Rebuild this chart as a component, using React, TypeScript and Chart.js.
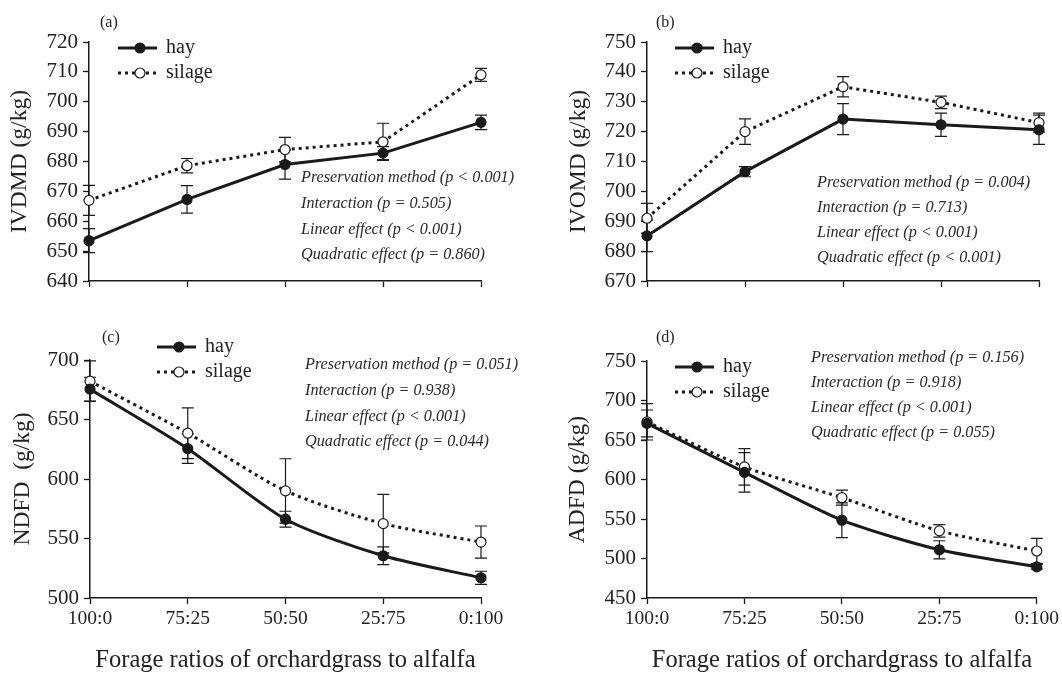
import React, { useEffect, useRef } from "react";
import { Chart, registerables } from "chart.js";

Chart.register(...registerables);

// ---------- data ----------
const categories = ["100:0", "75:25", "50:50", "25:75", "0:100"];
const seriesNames = ["hay", "silage"];

const ivdmdHay = [653.5, 667.3, 679.0, 682.8, 693.1];
const ivdmdHayErr = [4.0, 4.6, 4.9, 2.2, 2.4];
const ivdmdSilage = [667.0, 678.6, 684.0, 686.6, 709.0];
const ivdmdSilageErr = [5.0, 2.4, 4.1, 6.2, 2.2];

const ivomdHay = [685.1, 706.6, 724.2, 722.3, 720.6];
const ivomdHayErr = [5.3, 1.7, 5.2, 3.9, 4.9];
const ivomdSilage = [691.0, 720.0, 735.0, 729.8, 723.0];
const ivomdSilageErr = [5.0, 4.3, 3.4, 2.1, 3.2];

const ndfdHay = [675.5, 625.5, 566.2, 535.5, 517.0];
const ndfdHayErr = [10.0, 12.4, 6.7, 7.5, 5.5];
const ndfdSilage = [682.2, 638.5, 590.0, 562.5, 547.0];
const ndfdSilageErr = [17.0, 21.3, 27.0, 24.6, 13.5];

const adfdHay = [671.0, 609.0, 548.5, 511.0, 489.5];
const adfdHayErr = [17.0, 25.0, 22.0, 11.5, 3.0];
const adfdSilage = [673.0, 616.0, 577.0, 535.0, 509.5];
const adfdSilageErr = [23.0, 23.0, 9.5, 8.0, 16.0];

const statLabels = ["Preservation method", "Interaction", "Linear effect", "Quadratic effect"];
const ivdmdStats = ["(p < 0.001)", "(p = 0.505)", "(p < 0.001)", "(p = 0.860)"];
const ivomdStats = ["(p = 0.004)", "(p = 0.713)", "(p < 0.001)", "(p < 0.001)"];
const ndfdStats = ["(p = 0.051)", "(p = 0.938)", "(p < 0.001)", "(p = 0.044)"];
const adfdStats = ["(p = 0.156)", "(p = 0.918)", "(p < 0.001)", "(p = 0.055)"];

const xAxisTitle = "Forage ratios of orchardgrass to alfalfa";

// ---------- style ----------
const FONT = "'Liberation Serif', 'DejaVu Serif', serif";
const INK = "#1a1a1a";
const TEXT = "#222";

type PanelCfg = {
  key: string;
  letter: string;
  yTitle: string;
  hay: number[];
  hayErr: number[];
  silage: number[];
  silageErr: number[];
  stats: string[];
  yMin: number;
  yMax: number;
  step: number;
  tension: number;
  left: number;
  top: number;
  w: number;
  h: number;
  padLeft: number;
  padRight: number;
  padTop: number;
  yWidth: number;
  xHeight: number;
  showX: boolean;
  letterPos: [number, number];
  legendPos: [number, number];
  statsPos: [number, number];
  statsGap: number;
};

const panels: PanelCfg[] = [
  {
    key: "a", letter: "(a)", yTitle: "IVDMD (g/kg)",
    hay: ivdmdHay, hayErr: ivdmdHayErr, silage: ivdmdSilage, silageErr: ivdmdSilageErr,
    stats: ivdmdStats, yMin: 640, yMax: 720, step: 10, tension: 0,
    left: 0, top: 0, w: 531, h: 300, padLeft: 0, padRight: 50, padTop: 42, yWidth: 89, xHeight: 19, showX: false,
    letterPos: [100, 23], legendPos: [118, 48], statsPos: [301, 178], statsGap: 25.7,
  },
  {
    key: "b", letter: "(b)", yTitle: "IVOMD (g/kg)",
    hay: ivomdHay, hayErr: ivomdHayErr, silage: ivomdSilage, silageErr: ivomdSilageErr,
    stats: ivomdStats, yMin: 670, yMax: 750, step: 10, tension: 0,
    left: 531, top: 0, w: 531, h: 300, padLeft: 28, padRight: 23, padTop: 42, yWidth: 88, xHeight: 19, showX: false,
    letterPos: [125, 23], legendPos: [144, 48], statsPos: [286, 183], statsGap: 25,
  },
  {
    key: "c", letter: "(c)", yTitle: "NDFD  (g/kg)",
    hay: ndfdHay, hayErr: ndfdHayErr, silage: ndfdSilage, silageErr: ndfdSilageErr,
    stats: ndfdStats, yMin: 500, yMax: 700, step: 50, tension: 0.25,
    left: 0, top: 300, w: 531, h: 373, padLeft: 3, padRight: 50, padTop: 60, yWidth: 87, xHeight: 75, showX: true,
    letterPos: [102, 38], legendPos: [157, 47], statsPos: [305, 65], statsGap: 25.7,
  },
  {
    key: "d", letter: "(d)", yTitle: "ADFD (g/kg)",
    hay: adfdHay, hayErr: adfdHayErr, silage: adfdSilage, silageErr: adfdSilageErr,
    stats: adfdStats, yMin: 450, yMax: 750, step: 50, tension: 0.25,
    left: 531, top: 300, w: 531, h: 373, padLeft: 27, padRight: 23, padTop: 61, yWidth: 89, xHeight: 75, showX: true,
    letterPos: [125, 38], legendPos: [144, 67], statsPos: [280, 58], statsGap: 25,
  },
];

const overlayPlugin = {
  id: "overlay",
  beforeDatasetsDraw(chart: any, _args: any, opts: any) {
    const ctx = chart.ctx;
    const xs = chart.scales.x;
    const ys = chart.scales.y;
    ctx.save();
    ctx.strokeStyle = INK;
    ctx.lineWidth = 1.2;
    ctx.setLineDash([]);
    chart.data.datasets.forEach((ds: any, i: number) => {
      const errs: number[] = opts.errors[i];
      ds.data.forEach((v: number, j: number) => {
        const e = errs[j];
        const x = xs.getPixelForValue(j);
        const y1 = ys.getPixelForValue(v + e);
        const y2 = ys.getPixelForValue(v - e);
        ctx.beginPath();
        ctx.moveTo(x, y1);
        ctx.lineTo(x, y2);
        ctx.moveTo(x - 6, y1);
        ctx.lineTo(x + 6, y1);
        ctx.moveTo(x - 6, y2);
        ctx.lineTo(x + 6, y2);
        ctx.stroke();
      });
    });
    ctx.restore();
  },
  afterDraw(chart: any, _args: any, opts: any) {
    const ctx = chart.ctx;
    ctx.save();
    ctx.fillStyle = TEXT;
    ctx.font = `16px ${FONT}`;
    ctx.textBaseline = "middle";
    ctx.textAlign = "left";
    ctx.fillText(opts.letter, opts.letterPos[0], opts.letterPos[1]);

    const [lx, ly] = opts.legendPos;
    const rowGap = 25;
    chart.data.datasets.forEach((ds: any, i: number) => {
      const y = ly + i * rowGap;
      ctx.beginPath();
      ctx.strokeStyle = INK;
      ctx.lineWidth = 3;
      ctx.setLineDash(ds.borderDash || []);
      ctx.moveTo(lx, y);
      ctx.lineTo(lx + 39, y);
      ctx.stroke();
      ctx.setLineDash([]);
      ctx.beginPath();
      ctx.arc(lx + 22, y, 5, 0, Math.PI * 2);
      ctx.fillStyle = ds.pointBackgroundColor;
      ctx.fill();
      ctx.lineWidth = 1.2;
      ctx.strokeStyle = INK;
      ctx.stroke();
      ctx.fillStyle = TEXT;
      ctx.font = `20px ${FONT}`;
      ctx.textAlign = "left";
      ctx.textBaseline = "middle";
      ctx.fillText(ds.label, lx + 48, y);
    });

    ctx.fillStyle = "#2a2a2a";
    ctx.font = `italic 16.2px ${FONT}`;
    ctx.textAlign = "left";
    ctx.textBaseline = "middle";
    opts.stats.forEach((s: string, i: number) => {
      ctx.fillText(s, opts.statsPos[0], opts.statsPos[1] + i * opts.statsGap);
    });
    ctx.restore();
  },
};

function Panel({ cfg }: { cfg: PanelCfg }) {
  const ref = useRef<HTMLCanvasElement | null>(null);
  useEffect(() => {
    if (!ref.current) return;
    const chart = new Chart(ref.current, {
      type: "line",
      data: {
        labels: categories,
        datasets: [
          {
            label: seriesNames[0],
            data: cfg.hay,
            borderColor: INK,
            borderWidth: 3,
            pointRadius: 5,
            pointBackgroundColor: INK,
            pointBorderColor: INK,
            pointBorderWidth: 1.2,
            tension: cfg.tension,
            clip: false as any,
          },
          {
            label: seriesNames[1],
            data: cfg.silage,
            borderColor: INK,
            borderWidth: 3,
            borderDash: [3, 4],
            pointRadius: 5,
            pointBackgroundColor: "#ffffff",
            pointBorderColor: INK,
            pointBorderWidth: 1.2,
            tension: cfg.tension,
            clip: false as any,
          },
        ],
      },
      options: {
        animation: false,
        responsive: false,
        maintainAspectRatio: false,
        layout: { padding: { left: cfg.padLeft, right: cfg.padRight, top: cfg.padTop, bottom: 0 } },
        plugins: {
          legend: { display: false },
          tooltip: { enabled: false },
          overlay: {
            errors: [cfg.hayErr, cfg.silageErr],
            letter: cfg.letter,
            letterPos: cfg.letterPos,
            legendPos: cfg.legendPos,
            stats: cfg.stats.map((s, i) => `${statLabels[i]} ${s}`),
            statsPos: cfg.statsPos,
            statsGap: cfg.statsGap,
          },
        } as any,
        scales: {
          x: {
            type: "category",
            offset: false,
            grid: {
              drawOnChartArea: false,
              drawTicks: true,
              tickLength: 6,
              tickWidth: 1.3,
              tickColor: INK,
            },
            border: { display: true, color: INK, width: 1.5 },
            ticks: {
              display: cfg.showX,
              color: TEXT,
              font: { family: FONT, size: 19.5 },
              padding: 3,
              maxRotation: 0,
              autoSkip: false,
            },
            title: {
              display: cfg.showX,
              text: xAxisTitle,
              color: TEXT,
              font: { family: FONT, size: 24.5, lineHeight: 1 },
              padding: { top: 1, bottom: 0 },
            },
            afterFit: (s: any) => {
              s.height = cfg.xHeight;
            },
          },
          y: {
            type: "linear",
            min: cfg.yMin,
            max: cfg.yMax,
            grid: {
              drawOnChartArea: false,
              drawTicks: true,
              tickLength: 6,
              tickWidth: 1.3,
              tickColor: INK,
            },
            border: { display: true, color: INK, width: 1.5 },
            ticks: {
              stepSize: cfg.step,
              color: TEXT,
              font: { family: FONT, size: 21 },
              padding: 5,
            },
            title: {
              display: true,
              text: cfg.yTitle,
              color: TEXT,
              font: { family: FONT, size: 23.5, lineHeight: 1.2 },
              padding: { top: 6, bottom: 0 },
            },
            afterFit: (s: any) => {
              s.width = cfg.yWidth;
            },
          },
        },
      },
      plugins: [overlayPlugin as any],
    });
    return () => chart.destroy();
  }, [cfg]);

  return (
    <canvas
      ref={ref}
      width={cfg.w}
      height={cfg.h}
      style={{ position: "absolute", left: cfg.left, top: cfg.top, width: cfg.w, height: cfg.h }}
    />
  );
}

export default function App() {
  useEffect(() => {
    document.body.style.margin = "0";
    document.body.style.background = "#ffffff";
  }, []);
  return (
    <div style={{ position: "relative", width: 1062, height: 673, background: "#ffffff", overflow: "hidden" }}>
      {panels.map((p) => (
        <Panel key={p.key} cfg={p} />
      ))}
    </div>
  );
}
